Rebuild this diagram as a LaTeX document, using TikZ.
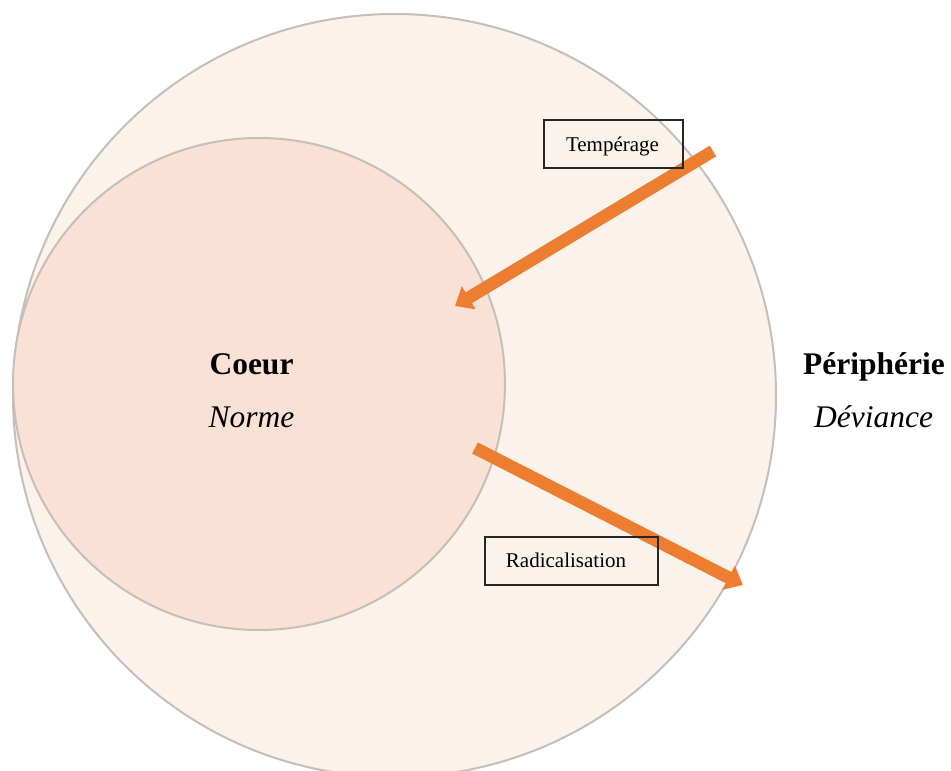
\documentclass[tikz,border=0pt]{standalone}
\usepackage{fontspec}
\setmainfont{Liberation Serif}
\usetikzlibrary{arrows.meta}
\definecolor{outerfill}{HTML}{FBF2EC}
\definecolor{innerfill}{HTML}{F9E2D5}
\definecolor{ringline}{HTML}{C8BEB9}
\definecolor{arroworange}{HTML}{ED7D31}
\tikzset{
  ring/.style={draw=ringline, line width=2pt},
  bigarrow/.style={draw=arroworange, line width=12.5pt, -{Triangle[length=16pt,width=26pt]}},
  labelbox/.style={draw=black!85, line width=1.1pt, inner sep=0pt},
  bigtitle/.style={font=\fontsize{31.5}{36}\selectfont\bfseries, anchor=base, inner sep=0pt},
  bigsub/.style={font=\fontsize{31.5}{36}\selectfont\itshape, anchor=base, inner sep=0pt},
  smalltext/.style={font=\fontsize{21}{24}\selectfont, anchor=base, inner sep=0pt}
}
\begin{document}
\begin{tikzpicture}[x=1pt, y=-1pt]
\useasboundingbox (0,0) rectangle (951,771);
% circles
\fill[outerfill] (394.5,395.5) circle (381.5);
\draw[ring] (394.5,395.5) circle (381.5);
\fill[innerfill] (259,384) circle (246);
\draw[ring] (259,384) circle (246);
% arrow end points
\coordinate (ttail) at (713,151);
\coordinate (thead) at (455,306);
\coordinate (rtail) at (475,448);
\coordinate (rhead) at (743,585);
\draw[bigarrow] (ttail) -- (thead);
\draw[bigarrow] (rtail) -- (rhead);
% boxes
\node[labelbox, minimum width=139pt, minimum height=48pt] (tbox) at (613.5,144) {};
\node[smalltext] (ttext) at (612.5,151) {Tempérage};
\node[labelbox, minimum width=173pt, minimum height=48pt] (rbox) at (571.5,561) {};
\node[smalltext] (rtext) at (566,567) {Radicalisation};
% titles
\node[bigtitle] (coeur) at (251.5,374) {Coeur};
\node[bigsub] (norme) at (251.5,427) {Norme};
\node[bigtitle] (peri) at (874,374) {Périphérie};
\node[bigsub] (dev) at (873.5,427) {Déviance};
\end{tikzpicture}
\end{document}
